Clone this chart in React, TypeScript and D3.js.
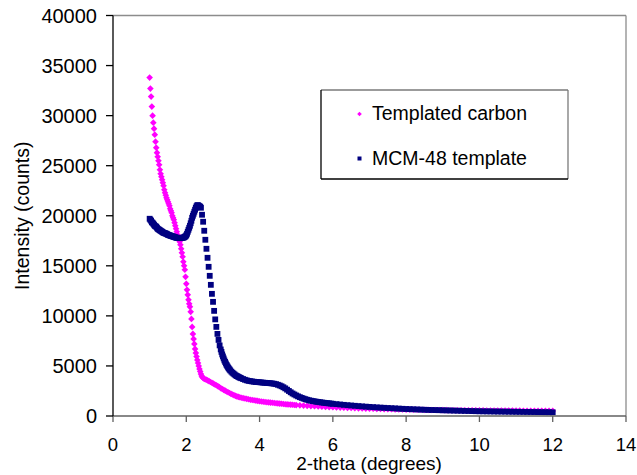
import React from "react";
import * as d3 from "d3";

// Templated carbon (magenta): [2-theta, counts]
const carbonPoints: [number, number][] = [
  [1.00,33800],[1.02,32700],[1.04,31900],[1.06,30900],[1.08,30000],[1.10,29300],[1.12,28700],[1.14,28100],[1.16,27400],[1.18,26800],
  [1.20,26300],[1.22,25900],[1.24,25500],[1.26,25100],[1.28,24600],[1.30,24200],[1.32,23900],[1.34,23600],[1.36,23300],[1.38,23000],
  [1.40,22600],[1.42,22300],[1.44,22050],[1.46,21800],[1.48,21600],[1.50,21400],[1.52,21200],[1.54,21000],[1.56,20700],[1.58,20500],
  [1.60,20300],[1.62,20000],[1.64,19800],[1.66,19600],[1.68,19300],[1.70,19000],[1.72,18700],[1.74,18400],[1.76,18100],[1.78,17900],
  [1.80,17600],[1.82,17400],[1.84,17100],[1.86,16700],[1.88,16300],[1.90,15900],[1.92,15400],[1.94,15000],[1.96,14600],[1.98,13900],
  [2.00,13200],[2.02,12600],[2.04,12100],[2.06,11600],[2.08,11200],[2.10,10900],[2.12,10400],[2.14,9700],[2.16,8900],[2.18,8200],
  [2.20,7700],[2.22,7200],[2.24,6700],[2.26,6300],[2.28,5950],[2.30,5600],[2.32,5300],[2.34,5000],[2.36,4700],[2.38,4450],
  [2.40,4200],[2.42,4000],[2.44,3880],[2.46,3800],[2.48,3740],[2.50,3700],[2.54,3630],[2.58,3560],[2.62,3480],[2.66,3400],
  [2.70,3320],[2.74,3230],[2.78,3150],[2.82,3070],[2.86,2980],[2.90,2900],[2.94,2780],[2.98,2690],[3.02,2610],[3.06,2530],
  [3.10,2450],[3.14,2370],[3.18,2290],[3.22,2210],[3.26,2140],[3.30,2080],[3.34,2010],[3.38,1960],[3.42,1910],[3.46,1870],
  [3.50,1830],[3.55,1790],[3.60,1750],[3.65,1710],[3.70,1670],[3.75,1630],[3.80,1600],[3.85,1570],[3.90,1540],[3.95,1510],
  [4.00,1480],[4.05,1455],[4.10,1430],[4.15,1405],[4.20,1380],[4.25,1360],[4.30,1340],[4.35,1320],[4.40,1300],[4.45,1280],
  [4.50,1260],[4.55,1240],[4.60,1220],[4.65,1200],[4.70,1180],[4.75,1165],[4.80,1150],[4.85,1135],[4.90,1120],[4.95,1105],
  [5.00,1090],[5.10,1065],[5.20,1040],[5.30,1015],[5.40,990],[5.50,970],[5.60,950],[5.70,930],[5.80,910],[5.90,890],
  [6.00,870],[6.10,855],[6.20,840],[6.30,825],[6.40,810],[6.50,795],[6.60,780],[6.70,765],[6.80,750],[6.90,740],
  [7.00,730],[7.10,720],[7.20,710],[7.30,700],[7.40,690],[7.50,680],[7.60,670],[7.70,660],[7.80,650],[7.90,645],
  [8.00,640],[8.10,635],[8.20,630],[8.30,625],[8.40,620],[8.50,615],[8.60,610],[8.70,605],[8.80,600],[8.90,595],
  [9.00,590],[9.10,585],[9.20,580],[9.30,578],[9.40,575],[9.50,572],[9.60,570],[9.70,567],[9.80,565],[9.90,562],
  [10.00,560],[10.10,557],[10.20,555],[10.30,552],[10.40,550],[10.50,547],[10.60,545],[10.70,542],[10.80,540],[10.90,537],
  [11.00,535],[11.10,532],[11.20,530],[11.30,527],[11.40,525],[11.50,522],[11.60,520],[11.70,517],[11.80,515],[11.90,512],
  [12.00,510]
];

// MCM-48 template (navy): [2-theta, counts]
const mcmPoints: [number, number][] = [
  [1.00,19700],[1.02,19600],[1.04,19500],[1.06,19350],[1.08,19300],[1.10,19200],[1.12,19100],[1.14,19000],[1.16,18950],[1.18,18900],
  [1.20,18800],[1.22,18700],[1.24,18650],[1.26,18600],[1.28,18550],[1.30,18500],[1.32,18450],[1.34,18400],[1.36,18350],[1.38,18300],
  [1.40,18270],[1.42,18250],[1.44,18220],[1.46,18200],[1.48,18150],[1.50,18100],[1.52,18080],[1.54,18050],[1.56,18020],[1.58,18000],
  [1.60,17970],[1.62,17950],[1.64,17920],[1.66,17900],[1.68,17870],[1.70,17850],[1.72,17820],[1.74,17800],[1.76,17790],[1.78,17780],
  [1.80,17770],[1.82,17760],[1.84,17770],[1.86,17780],[1.88,17790],[1.90,17800],[1.92,17820],[1.94,17850],[1.96,17900],[1.98,17950],
  [2.00,18050],[2.02,18200],[2.04,18400],[2.06,18600],[2.08,18800],[2.10,19000],[2.12,19250],[2.14,19500],[2.16,19800],[2.18,20000],
  [2.20,20200],[2.22,20400],[2.24,20600],[2.26,20800],[2.28,20950],[2.30,21050],[2.32,21050],[2.34,21000],[2.36,20950],[2.38,20900],
  [2.40,20800],[2.43,20100],[2.46,19400],[2.49,18500],[2.52,17600],[2.55,16700],[2.58,15800],[2.61,14900],[2.64,14000],[2.67,13100],
  [2.70,12200],[2.73,11400],[2.76,10500],[2.79,9650],[2.82,8900],[2.85,8200],[2.88,7600],[2.91,7050],[2.94,6650],[2.96,6400],
  [2.98,6150],[3.00,5950],[3.02,5750],[3.04,5550],[3.06,5400],[3.08,5250],[3.10,5100],[3.12,4970],[3.14,4850],[3.16,4750],
  [3.18,4650],[3.20,4550],[3.23,4430],[3.26,4320],[3.29,4230],[3.32,4140],[3.35,4050],[3.38,3990],[3.41,3930],[3.44,3870],
  [3.47,3820],[3.50,3770],[3.55,3690],[3.60,3620],[3.65,3560],[3.70,3510],[3.75,3480],[3.80,3450],[3.85,3420],[3.90,3400],
  [3.95,3385],[4.00,3370],[4.05,3350],[4.10,3330],[4.15,3315],[4.20,3300],[4.25,3285],[4.30,3270],[4.35,3250],[4.40,3220],
  [4.45,3180],[4.50,3120],[4.55,3050],[4.60,2970],[4.65,2870],[4.70,2760],[4.75,2630],[4.80,2500],[4.85,2370],[4.90,2250],
  [4.95,2150],[5.00,2050],[5.05,1960],[5.10,1880],[5.15,1810],[5.20,1740],[5.25,1680],[5.30,1620],[5.35,1570],[5.40,1530],
  [5.45,1490],[5.50,1460],[5.55,1430],[5.60,1400],[5.65,1375],[5.70,1350],[5.75,1325],[5.80,1300],[5.85,1280],[5.90,1260],
  [5.95,1240],[6.00,1220],[6.10,1185],[6.20,1150],[6.30,1115],[6.40,1080],[6.50,1050],[6.60,1020],[6.70,990],[6.80,960],
  [6.90,935],[7.00,910],[7.10,885],[7.20,860],[7.30,840],[7.40,820],[7.50,800],[7.60,780],[7.70,760],[7.80,740],
  [7.90,720],[8.00,700],[8.10,685],[8.20,670],[8.30,655],[8.40,640],[8.50,625],[8.60,610],[8.70,600],[8.80,590],
  [8.90,580],[9.00,570],[9.10,560],[9.20,550],[9.30,540],[9.40,530],[9.50,520],[9.60,510],[9.70,500],[9.80,490],
  [9.90,480],[10.00,470],[10.10,465],[10.20,460],[10.30,455],[10.40,450],[10.50,445],[10.60,440],[10.70,435],[10.80,430],
  [10.90,425],[11.00,420],[11.10,415],[11.20,410],[11.30,405],[11.40,400],[11.50,395],[11.60,390],[11.70,385],[11.80,380],
  [11.90,375],[12.00,370]
];

const xTicks = [0, 2, 4, 6, 8, 10, 12, 14];
const yTicks = [0, 5000, 10000, 15000, 20000, 25000, 30000, 35000, 40000];
const seriesNames = ["Templated carbon", "MCM-48 template"];
const xTitle = "2-theta (degrees)";
const yTitle = "Intensity (counts)";

const W = 637;
const H = 475;
const font = "'Liberation Sans', Arial, sans-serif";

export default function App() {
  const x = d3.scaleLinear().domain([0, 14]).range([113, 626]);
  const y = d3.scaleLinear().domain([0, 40000]).range([416, 15.5]);
  const dia = (cx: number, cy: number, r: number) =>
    `M${cx},${cy - r}L${cx + r},${cy}L${cx},${cy + r}L${cx - r},${cy}Z`;
  const [x0, x1] = x.range();
  const [y0, y1] = y.range();

  return (
    <svg width={W} height={H} style={{ position: "absolute", left: 0, top: 0, background: "#fff" }} fontFamily={font}>
      {/* frame */}
      <line x1={x0} x2={x1} y1={y1} y2={y1} stroke="#8c8c8c" strokeWidth={1.3} />
      <line x1={x1} x2={x1} y1={y1} y2={y0} stroke="#8c8c8c" strokeWidth={1.3} />
      {/* points */}
      <g fill="#FF00FF">
        {carbonPoints.map((d, i) => (
          <path key={i} d={dia(x(d[0]), y(d[1]), 3.3)} />
        ))}
      </g>
      <g fill="#000080">
        {mcmPoints.map((d, i) => (
          <rect key={i} x={x(d[0]) - 2.9} y={y(d[1]) - 2.9} width={5.8} height={5.8} />
        ))}
      </g>
      {/* x axis */}
      <line x1={x0} x2={x1} y1={y0} y2={y0} stroke="#606060" strokeWidth={1.3} />
      {xTicks.map((t) => (
        <g key={t}>
          <line x1={x(t)} x2={x(t)} y1={y0} y2={y0 + 6} stroke="#606060" strokeWidth={1.3} />
          <text x={x(t)} y={450.5} textAnchor="middle" fontSize={18.5} fill="#000">{t}</text>
        </g>
      ))}
      {/* y axis */}
      <line x1={x0} x2={x0} y1={y1} y2={y0} stroke="#000" strokeWidth={1.3} />
      {yTicks.map((t) => (
        <g key={t}>
          <line x1={x0 - 7} x2={x0} y1={y(t)} y2={y(t)} stroke="#000" strokeWidth={1.3} />
          <text x={97} y={y(t)} dy="0.35em" textAnchor="end" fontSize={20} fill="#000">{t}</text>
        </g>
      ))}
      <text x={369} y={470} textAnchor="middle" fontSize={19} fill="#000">{xTitle}</text>
      <text transform={`translate(29,${(y0 + y1) / 2}) rotate(-90)`} textAnchor="middle" fontSize={19.5} fill="#000">{yTitle}</text>
      {/* legend */}
      <rect x={321} y={90} width={247} height={89} fill="#fff" stroke="none" />
      <line x1={321} x2={568} y1={90} y2={90} stroke="#7a7a7a" strokeWidth={1.3} />
      <line x1={568} x2={568} y1={90} y2={179} stroke="#7a7a7a" strokeWidth={1.3} />
      <line x1={321} x2={321} y1={90} y2={179} stroke="#000" strokeWidth={1.3} />
      <line x1={321} x2={568} y1={179} y2={179} stroke="#000" strokeWidth={1.3} />
      <path d={dia(359.5, 114, 2.3)} fill="#FF00FF" />
      <rect x={357.5} y={156.5} width={4} height={4} fill="#000080" />
      <text x={372} y={120} fontSize={19.5} fill="#000">{seriesNames[0]}</text>
      <text x={372} y={165} fontSize={19.5} fill="#000">{seriesNames[1]}</text>
    </svg>
  );
}
